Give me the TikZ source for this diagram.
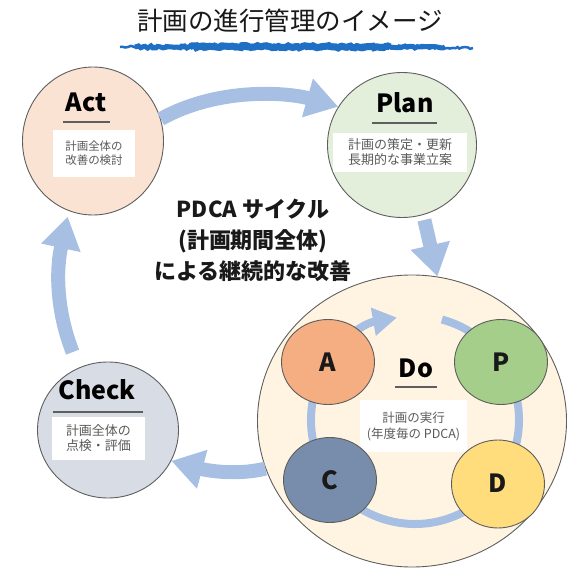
\documentclass[tikz,border=0pt]{standalone}
\usepackage{fontspec}
\setmainfont{Noto Sans CJK JP}
\usetikzlibrary{arrows.meta,shapes.geometric,decorations.pathmorphing,calc}
\definecolor{arrowblue}{HTML}{A8BFE4}
\definecolor{ulblue}{HTML}{1F6FC5}
\definecolor{actfill}{HTML}{FBE3D3}
\definecolor{planfill}{HTML}{E3EFDA}
\definecolor{checkfill}{HTML}{D7DCE5}
\definecolor{dofill}{HTML}{FFF4E2}
\definecolor{afill}{HTML}{F4AE82}
\definecolor{pfill}{HTML}{A6CE8B}
\definecolor{cfill}{HTML}{788DAB}
\definecolor{dfill}{HTML}{FFDC7C}
\definecolor{edge}{HTML}{5E5E5E}
\definecolor{boxtext}{HTML}{5A5A5A}
\begin{document}
\begin{tikzpicture}[x=1pt,y=-1pt,
  bigcirc/.style={ellipse, draw=edge, line width=0.9pt, inner sep=0pt},
  smallcirc/.style={ellipse, draw=edge, line width=0.9pt, inner sep=0pt, minimum width=93pt, minimum height=85pt},
  headline/.style={anchor=base, font=\bfseries\fontsize{25}{25}\selectfont, text=black},
  letter/.style={anchor=base, font=\bfseries\fontsize{25}{25}\selectfont, text=black!90},
  rule/.style={draw=edge, line width=1.5pt},
  infobox/.style={fill=white, inner sep=0pt, align=center, text=boxtext, font=\fontsize{12}{14}\selectfont},
  bigarrow/.style={draw=arrowblue, line width=14pt, -{Triangle[length=32pt,width=38pt]}},
  ringarrow/.style={draw=arrowblue, line width=8pt, -{Triangle[length=24pt,width=27pt]}},
  ul/.style={draw=ulblue, decorate, decoration={random steps, segment length=2.5pt, amplitude=1.1pt}}
]
\useasboundingbox (0,0) rectangle (574,572);

% title
\node[font=\fontsize{25.5}{25.5}\selectfont, text=black!90] (title) at (290,21) {計画の進行管理のイメージ};
\pgfmathsetseed{7}
\draw[ul, line width=2.5pt] (120,47) -- (473,48);
\draw[ul, line width=5pt] (135,47) -- (445,47);
\draw[ul, line width=7pt] (190,46.5) -- (390,47);

% big circles
\node[bigcirc, fill=actfill, minimum width=141pt, minimum height=148pt] (act) at (93,141) {};
\node[bigcirc, fill=planfill, minimum width=149pt, minimum height=145pt] (plan) at (402,145) {};
\node[bigcirc, fill=checkfill, minimum width=141pt, minimum height=136pt] (check) at (108,430) {};
\node[bigcirc, fill=dofill, minimum width=309pt, minimum height=292pt] (do) at (412,421) {};

% Act contents
\node[headline] (actT) at (86,112) {Act};
\draw[rule] (63,122) -- (110,122);
\node[infobox, minimum width=82pt, minimum height=47pt, font=\fontsize{11.5}{14}\selectfont] (actB) at (94,153.5) {計画全体の\\改善の検討};

% Plan contents
\node[headline] (planT) at (405,113) {Plan};
\draw[rule] (372,123) -- (437,123);
\node[infobox, minimum width=134pt, minimum height=39pt, font=\fontsize{13}{15}\selectfont] (planB) at (400,152.5) {計画の策定・更新\\長期的な事業立案};

% Check contents
\node[headline] (checkT) at (97,400) {Check};
\draw[rule] (53,412) -- (143,412);
\node[infobox, minimum width=93pt, minimum height=43pt, font=\fontsize{13}{15}\selectfont] (checkB) at (98.5,438.5) {計画全体の\\点検・評価};

% central text
\node[align=center, font=\bfseries\fontsize{22}{31}\selectfont, text=black!90] (center) at (253,240) {PDCA サイクル\\(計画期間全体)\\による継続的な改善};

% outer cycle arrows
\draw[bigarrow] (act.18) .. controls (220,86) and (290,93) .. (plan.149);
\draw[bigarrow] ($(plan.-73)+(1,5)$) -- (do.80);
\draw[bigarrow] (do.198) .. controls (235,476) and (205,470) .. (check.-26);
\draw[bigarrow] ($(check.118)+(-3,-17)$) .. controls (58,315) and (55,275) .. ($(act.250)+(0,6)$);

% inner ring
\coordinate (ringc) at (415,420);
\draw[ringarrow] ([shift={(75:104pt)}]ringc) arc[start angle=75, end angle=-260, radius=104pt];

% Do contents
\node[headline] (doT) at (416,378) {Do};
\draw[rule] (395,387) -- (437,387);
\node[infobox, minimum width=107pt, minimum height=52pt, font=\fontsize{12.5}{16}\selectfont] (doB) at (413.5,426) {計画の実行\\(年度毎の PDCA)};

% small circles
\node[smallcirc, fill=afill] (a) at (328,362) {};
\node[smallcirc, fill=pfill] (p) at (501,362) {};
\node[smallcirc, fill=cfill] (c) at (330,480) {};
\node[smallcirc, fill=dfill, minimum height=88pt] (d) at (498,484) {};
\node[letter] (aT) at (328,372) {A};
\node[letter] (pT) at (501,372) {P};
\node[letter] (cT) at (330,490) {C};
\node[letter] (dT) at (498,493) {D};
\end{tikzpicture}
\end{document}
